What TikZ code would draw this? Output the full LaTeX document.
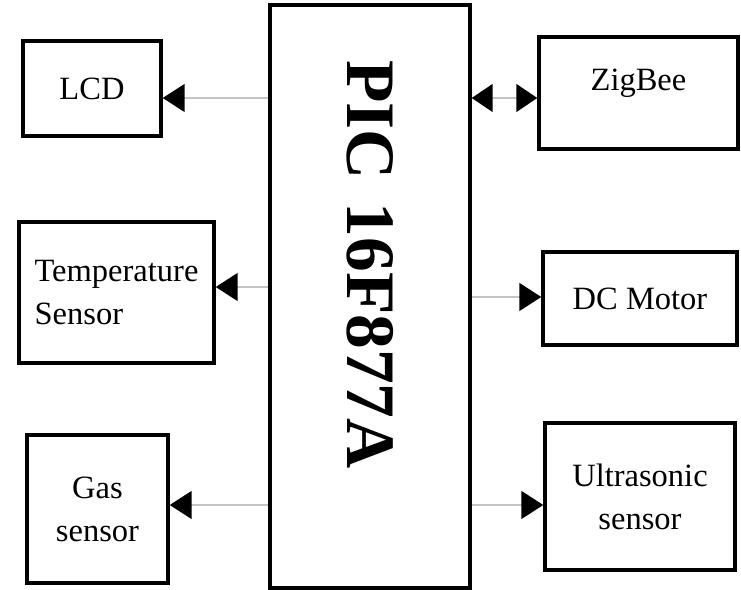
\documentclass[tikz,border=0pt]{standalone}
\usepackage{fontspec}
\setmainfont{Liberation Serif}
\usepackage{tikz}
\usetikzlibrary{positioning,arrows.meta}
\definecolor{wire}{HTML}{C4C4C4}
\tikzset{
  blk/.style={draw=black,line width=0.07cm,fill=white,align=center,inner sep=2pt,
              font=\fontsize{18.5}{24.5}\selectfont},
  mcu/.style={draw=black,line width=0.07cm,fill=white,rotate=-90,align=left,
              inner xsep=1.1cm,text width=9.46cm,minimum width=11.66cm,minimum height=4cm,
              font=\fontsize{39.5}{42}\selectfont\bfseries},
  arr/.style={-{Triangle[length=0.44cm,width=0.56cm,color=black]},draw=wire,line width=0.9pt},
  barr/.style={{Triangle[length=0.42cm,width=0.56cm,color=black]}-{Triangle[length=0.42cm,width=0.56cm,color=black]},
               draw=wire,line width=0.9pt}
}

\begin{document}
\begin{tikzpicture}[x=0.02cm,y=-0.02cm]
  \useasboundingbox (0,0) rectangle (741,590);

  \node[mcu] (pic) at (370,296.5) {PIC 16F877A};

  \node[blk,minimum width=2.76cm,minimum height=1.9cm] (lcd) at (92,88.5) {LCD};
  \node[blk,minimum width=3.9cm,minimum height=2.82cm,align=left] (temp) at (116.5,292.5) {Temperature\\Sensor};
  \node[blk,minimum width=2.82cm,minimum height=2.96cm] (gas) at (97.5,509) {Gas\\sensor};
  \node[blk,minimum width=3.98cm,minimum height=2.24cm,text depth=0.55cm] (zig) at (638.5,93) {ZigBee};
  \node[blk,minimum width=3.88cm,minimum height=1.86cm] (motor) at (640,298.5) {DC Motor};
  \node[blk,minimum width=3.8cm,minimum height=2.94cm] (sonic) at (640,496.5) {Ultrasonic\\sensor};

  \coordinate (lcdin) at ([yshift=-0.19cm]lcd.east);
  \coordinate (tempin) at ([yshift=0.11cm]temp.east);
  \coordinate (gasin) at ([yshift=0.08cm]gas.east);
  \coordinate (zigin) at ([yshift=-0.1cm]zig.west);
  \coordinate (motorin) at ([yshift=0.03cm]motor.west);
  \coordinate (sonicin) at ([yshift=-0.17cm]sonic.west);

  \draw[arr] (pic.south |- lcdin) -- (lcdin);
  \draw[arr] (pic.south |- tempin) -- (tempin);
  \draw[arr] (pic.south |- gasin) -- (gasin);
  \draw[barr] (pic.north |- zigin) -- (zigin);
  \draw[arr] (pic.north |- motorin) -- (motorin);
  \draw[arr] (pic.north |- sonicin) -- (sonicin);
\end{tikzpicture}
\end{document}
